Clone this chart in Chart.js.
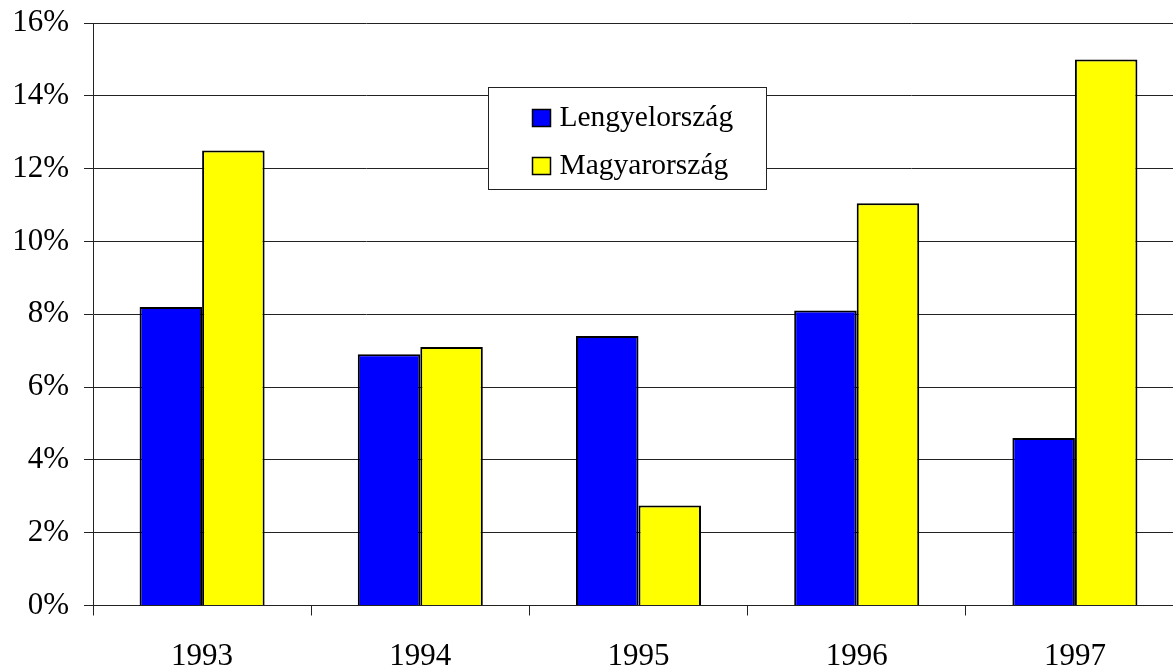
<!DOCTYPE html>
<html>
<head>
<meta charset="utf-8">
<script src="https://cdn.jsdelivr.net/npm/chart.js@4.4.1/dist/chart.umd.min.js"></script>
<style>
  html, body { margin: 0; padding: 0; background: #fff; overflow: hidden; }
  #wrap { position: relative; width: 1190px; height: 668px; }
</style>
</head>
<body>
<div id="wrap"><canvas id="c" width="1190" height="668"></canvas></div>
<script>
// Years on the category axis
const years = ['1993', '1994', '1995', '1996', '1997'];
// Annual values in percent
const lengyelorszag = [8.2, 6.9, 7.4, 8.1, 4.6];
const magyarorszag = [12.5, 7.1, 2.75, 11.05, 15.0];
// Y axis range and step (percent)
const yMin = 0, yMax = 16, yStep = 2;

const FONT = '"Liberation Serif", "Times New Roman", serif';
const AXIS_FONT_SIZE = 31;
const LEGEND_FONT_SIZE = 29.5;

// Bordered legend box drawn inside the plot area
const boxLegend = {
  id: 'boxLegend',
  afterDraw(chart) {
    const ctx = chart.ctx;
    const ca = chart.chartArea;
    const x = Math.round(ca.left + 0.3622 * ca.width) + 0.5;
    const y = Math.round(ca.top + 0.11 * ca.height) + 0.5;
    const w = 278, h = 102;
    ctx.save();
    ctx.fillStyle = '#fff';
    ctx.fillRect(x, y, w, h);
    ctx.strokeStyle = '#222';
    ctx.lineWidth = 1;
    ctx.strokeRect(x, y, w, h);
    ctx.font = LEGEND_FONT_SIZE + 'px ' + FONT;
    ctx.textBaseline = 'middle';
    chart.data.datasets.forEach((ds, i) => {
      const cy = y + 30 + i * 48;
      ctx.fillStyle = ds.backgroundColor;
      ctx.fillRect(x + 44, cy - 8, 18, 17);
      ctx.strokeStyle = '#000';
      ctx.lineWidth = 1.5;
      ctx.strokeRect(x + 44, cy - 8, 18, 17);
      ctx.fillStyle = '#000';
      ctx.fillText(ds.label, x + 71, cy + 1);
    });
    ctx.restore();
  }
};

// Fixed axis sizes so the plot area sits at a known place
function zeroPad(scale) {
  scale.paddingTop = 0;
  scale.paddingBottom = 0;
  scale.paddingLeft = 0;
  scale.paddingRight = 0;
}

new Chart(document.getElementById('c'), {
  type: 'bar',
  data: {
    labels: years,
    datasets: [
      { label: 'Lengyelország', data: lengyelorszag, backgroundColor: '#0000ff', borderColor: '#000', borderWidth: 2 },
      { label: 'Magyarország', data: magyarorszag, backgroundColor: '#ffff00', borderColor: '#000', borderWidth: 2 }
    ]
  },
  options: {
    responsive: false,
    animation: false,
    events: [],
    layout: { padding: { top: 23, right: 6, left: 0, bottom: 0 } },
    plugins: { legend: { display: false }, tooltip: { enabled: false } },
    datasets: { bar: { categoryPercentage: 0.573, barPercentage: 1.0 } },
    scales: {
      x: {
        grid: { offset: true, drawOnChartArea: false, color: '#222', tickLength: 10, lineWidth: 1 },
        border: { color: '#222', width: 1 },
        ticks: { color: '#000', font: { family: FONT, size: AXIS_FONT_SIZE }, padding: 23, maxRotation: 0 },
        afterFit(scale) { scale.height = 62.5; zeroPad(scale); }
      },
      y: {
        min: yMin, max: yMax,
        grid: { color: '#222', lineWidth: 1, tickLength: 9 },
        border: { color: '#222', width: 1 },
        ticks: {
          stepSize: yStep,
          color: '#000',
          font: { family: FONT, size: AXIS_FONT_SIZE },
          padding: 15,
          callback: v => v + '%'
        },
        afterFit(scale) { scale.width = 93; zeroPad(scale); }
      }
    }
  },
  plugins: [boxLegend]
});
</script>
</body>
</html>
